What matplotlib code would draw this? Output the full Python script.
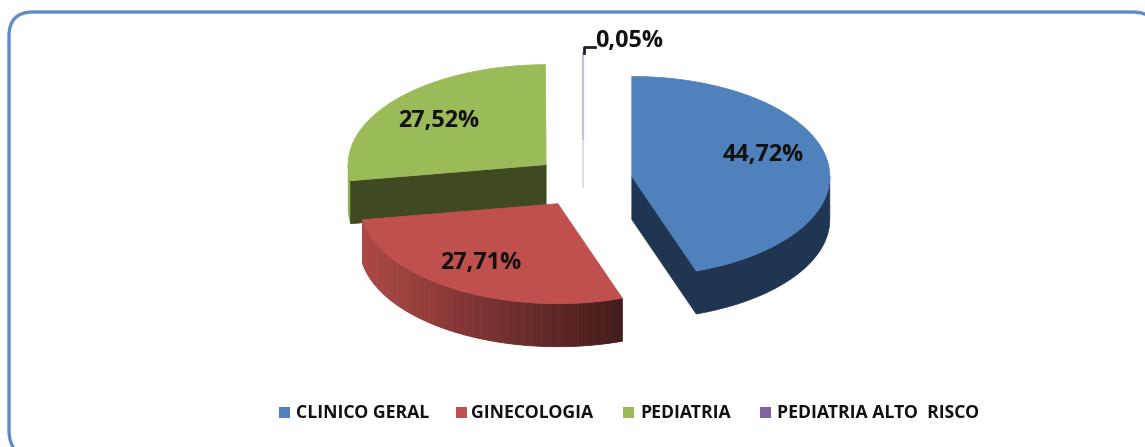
import numpy as np
import matplotlib
matplotlib.use('Agg')
from matplotlib import pyplot as plt
from matplotlib.patches import Polygon, Rectangle, PathPatch
from matplotlib.path import Path

categories = ['CLINICO GERAL', 'GINECOLOGIA', 'PEDIATRIA', 'PEDIATRIA ALTO  RISCO']
values = [44.72, 27.71, 27.52, 0.05]
labels = ['44,72%', '27,71%', '27,52%', '0,05%']
colors = ['#4f81bd', '#c0504d', '#9bbb59', '#8064a2']

W, H = 1145, 447
cx, cy = 583.5, 180.5   # pie centre, pixels
rx, ry = 198, 100
depth = 43
explode_x = np.array([49, 50, 49, 80])
explode_y = np.array([49, 54, 49, 80])

plt.rcParams['font.family'] = ['Open Sans', 'DejaVu Sans']

fig = plt.figure(figsize=(W / 100, H / 100), dpi=100)
ax = fig.add_axes([0, 0, 1, 1])
ax.set_xlim(0, W)
ax.set_ylim(H, 0)
ax.axis('off')

# chart frame, runs off the picture at the right and bottom
verts = [(37, 458), (9, 458), (9, 430), (9, 36), (9, 12), (33, 12), (1132, 12), (1160, 12), (1160, 40)]
codes = [Path.MOVETO, Path.CURVE3, Path.CURVE3, Path.LINETO, Path.CURVE3, Path.CURVE3,
         Path.LINETO, Path.CURVE3, Path.CURVE3]
ax.add_patch(PathPatch(Path(verts, codes), fc='none', ec='#5f8cc4', lw=2.4))


def shade(c, f):
    return tuple(np.array(matplotlib.colors.to_rgb(c)) * f)


def rim(x0, y0, a0, a1, n=80):
    a = np.radians(np.linspace(a0, a1, n))
    return x0 + rx * np.sin(a), y0 - ry * np.cos(a)


total = sum(values)
ends = np.cumsum(values) / total * 360
starts = ends - np.array(values) / total * 360
mids = (starts + ends) / 2
ox = cx + explode_x * np.sin(np.radians(mids))
oy = cy - explode_y * 0.5 * np.cos(np.radians(mids))

# thin slice at the back
ax.plot([ox[3], ox[3]], [oy[3] - ry * 0.88, oy[3]], color='#c9bfd8', lw=1.6, zorder=1)
ax.plot([ox[3], ox[3]], [oy[3], oy[3] + depth + 3], color='#e0dde6', lw=1.4, zorder=1)

# green slice, cut face towards the viewer
x, y = rim(ox[2], oy[2], starts[2], ends[2])
wall = rim(ox[2], oy[2], starts[2], 270, 12)
side = np.r_[np.c_[wall], np.c_[wall[0], wall[1] + depth][::-1]]
ax.add_patch(Polygon(side, fc='#90ae52', ec='#90ae52', lw=0.5, zorder=2))
ax.add_patch(Polygon([(ox[2], oy[2]), (x[0], y[0]), (x[0], y[0] + depth), (ox[2], oy[2] + depth)],
                     fc='#3f4a22', ec='#3f4a22', lw=0.5, zorder=2))
ax.add_patch(Polygon(np.r_[[(ox[2], oy[2])], np.c_[x, y]], fc=colors[2], ec=colors[2], lw=0.5, zorder=3))

# red slice, outer wall darkens to the right
x, y = rim(ox[1], oy[1], starts[1], ends[1], 120)
for i in range(len(x) - 1):
    c = shade(colors[1], 0.9 - 0.55 * (x[i] - x[-1]) / (x[0] - x[-1]))
    ax.add_patch(Polygon([(x[i], y[i]), (x[i + 1], y[i + 1]), (x[i + 1], y[i + 1] + depth), (x[i], y[i] + depth)],
                         fc=c, ec=c, lw=0.6, zorder=4))
ax.add_patch(Polygon(np.r_[[(ox[1], oy[1])], np.c_[x, y]], fc=colors[1], ec=colors[1], lw=0.5, zorder=5))

# blue slice
x, y = rim(ox[0], oy[0], starts[0], ends[0])
wall = rim(ox[0], oy[0], 90, ends[0])
side = np.r_[np.c_[wall], np.c_[wall[0], wall[1] + depth][::-1]]
ax.add_patch(Polygon(side, fc='#1f3552', ec='#1f3552', lw=0.5, zorder=2))
ax.add_patch(Polygon([(ox[0], oy[0]), (x[-1], y[-1]), (x[-1], y[-1] + depth), (ox[0], oy[0] + depth)],
                     fc='#1f3552', ec='#1f3552', lw=0.5, zorder=2))
ax.add_patch(Polygon(np.r_[[(ox[0], oy[0])], np.c_[x, y]], fc=colors[0], ec=colors[0], lw=0.5, zorder=3))

# value labels
lab_pos = [(763, 155.5), (481, 262.5), (439, 120.5), (629, 40.5)]
for s, (px, py) in zip(labels, lab_pos):
    ax.text(px, py, s, ha='center', va='center', fontsize=16.8, fontweight='bold', color='#111111', zorder=8)
ax.plot([583.5, 583.5, 595], [53, 47, 47], color='#222222', lw=2, zorder=8)

# legend
leg_sq = [279, 456, 623, 760]
leg_txt = [296, 471, 640, 777]
for i in range(4):
    ax.add_patch(Rectangle((leg_sq[i], 407), 11, 11, fc=colors[i], ec='none', zorder=8))
    ax.text(leg_txt[i], 412.5, categories[i], ha='left', va='center', fontsize=12.7,
            fontweight='bold', color='#111111', zorder=8)

fig.savefig('out.png', dpi=100)
